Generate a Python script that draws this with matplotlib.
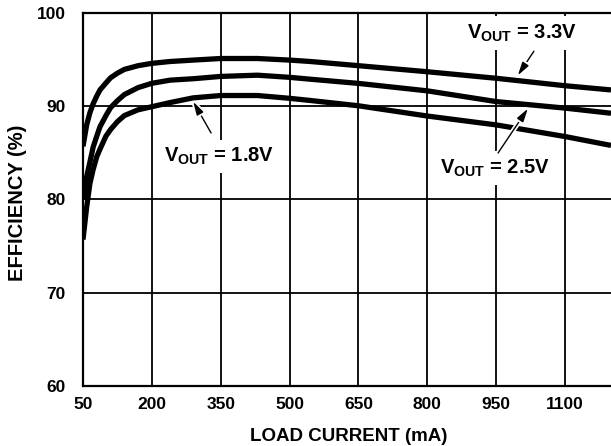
import matplotlib
matplotlib.use("Agg")
import matplotlib.pyplot as plt
import matplotlib.patheffects as pe

plt.rcParams['font.family'] = ['Liberation Sans', 'DejaVu Sans']
plt.rcParams['font.weight'] = 'bold'
plt.rcParams['mathtext.fontset'] = 'custom'
plt.rcParams['mathtext.rm'] = 'Liberation Sans:bold'
plt.rcParams['mathtext.it'] = 'Liberation Sans:bold'
plt.rcParams['mathtext.bf'] = 'Liberation Sans:bold'

load_ma = [50, 58, 65, 72, 80, 87, 100, 110, 125, 140, 170, 200, 240, 290, 350, 430,
           500, 545, 650, 800, 950, 1100, 1200]
eff_33 = [85.7, 88.0, 89.3, 90.25, 91.1, 91.75, 92.5, 93.05, 93.55, 93.95, 94.35, 94.6,
          94.8, 94.95, 95.12, 95.12, 94.95, 94.8, 94.35, 93.7, 93.0, 92.2, 91.75]
eff_25 = [80.0, 82.45, 84.0, 85.6, 86.8, 87.8, 89.0, 89.85, 90.6, 91.25, 92.0, 92.46,
          92.8, 92.95, 93.2, 93.33, 93.1, 92.9, 92.45, 91.65, 90.5, 89.8, 89.25]
eff_18 = [75.7, 79.2, 81.7, 83.2, 84.6, 85.4, 86.8, 87.5, 88.35, 89.0, 89.62, 89.95,
          90.4, 90.9, 91.15, 91.15, 90.85, 90.62, 90.05, 88.95, 88.0, 86.75, 85.8]

x_ticks = [50, 200, 350, 500, 650, 800, 950, 1100]
y_ticks = [60, 70, 80, 90, 100]

W, H = 611, 446
fig = plt.figure(figsize=(W / 100, H / 100), dpi=100)
ax = fig.add_axes([83 / W, (H - 386) / H, (W - 83) / W, (386 - 13) / H])
ax.set_xlim(50, 1200)
ax.set_ylim(60, 100)
ax.set_xticks(x_ticks)
ax.set_yticks(y_ticks)
ax.tick_params(length=0, labelsize=12.5)
ax.tick_params(axis='x', pad=8)
ax.tick_params(axis='y', pad=12.5)
ax.grid(True, color='black', lw=1.3)
ax.set_axisbelow(True)
for s in ['left', 'bottom', 'top']:
    ax.spines[s].set_linewidth(1.6)
ax.spines['right'].set_visible(False)

for ys in (eff_33, eff_25, eff_18):
    ax.plot(load_ma, ys, color='black', lw=3.8, solid_capstyle='butt',
            solid_joinstyle='round', zorder=3)

ax.set_xlabel('LOAD CURRENT (mA)', fontsize=13.5, fontweight='bold')
ax.set_ylabel('EFFICIENCY (%)', fontsize=14.5, fontweight='bold')
ax.xaxis.set_label_coords(0.503, -0.112)
ax.yaxis.set_label_coords(-0.106, 0.492)

bbox = dict(boxstyle='square,pad=0.3', fc='white', ec='none')
arrow = dict(arrowstyle='-|>,head_length=0.8,head_width=0.22', color='black', lw=1.0,
             shrinkA=0, shrinkB=0,
             path_effects=[pe.withStroke(linewidth=3.5, foreground='white')])

annots = [
    (r'$\mathrm{V_{OUT}}$ = 3.3V', (1007, 97.29), (1032, 95.9), (997, 93.3)),
    (r'$\mathrm{V_{OUT}}$ = 2.5V', (948, 82.81), (954, 84.99), (1019, 89.75)),
    (r'$\mathrm{V_{OUT}}$ = 1.8V', (347, 84.05), (329, 87.13), (290, 90.5)),
]
for label, tpos, tail, head in annots:
    ax.text(tpos[0], tpos[1], label, ha='center', va='baseline', fontsize=14.5,
            fontweight='bold', bbox=bbox, zorder=4)
    ax.annotate('', xy=head, xytext=tail, arrowprops=arrow, zorder=5)

fig.savefig('out.png', dpi=100)
